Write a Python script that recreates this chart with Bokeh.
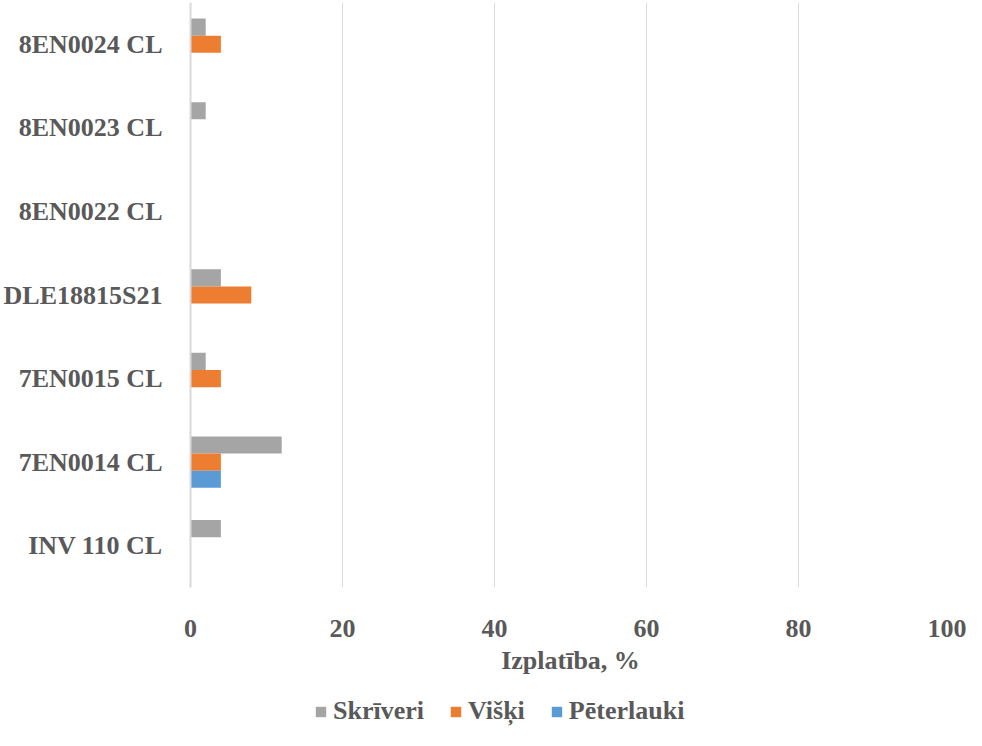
from bokeh.plotting import figure
from bokeh.layouts import column
from bokeh.models import ColumnDataSource, Legend, LegendItem, FactorRange, Range1d
from bokeh.transform import dodge
from bokeh.embed import file_html
from bokeh.resources import INLINE

categories = ["INV 110 CL", "7EN0014 CL", "7EN0015 CL", "DLE18815S21", "8EN0022 CL", "8EN0023 CL", "8EN0024 CL"]
skriveri = [4, 12, 2, 4, 0, 2, 2]
viski = [0, 4, 4, 8, 0, 0, 4]
peterlauki = [0, 4, 0, 0, 0, 0, 0]
series_names = ["Skrīveri", "Višķi", "Pēterlauki"]
colors = ["#a5a5a5", "#ed7d31", "#5b9bd5"]
x_ticks = [0, 20, 40, 60, 80, 100]

src = ColumnDataSource(dict(cat=categories, s=skriveri, v=viski, p=peterlauki))

font = "Liberation Serif"
txt = "#595959"

p = figure(width=966, height=685, y_range=FactorRange(*categories), x_range=(0, 100),
           output_backend="svg", toolbar_location=None,
           min_border_left=185, min_border_right=16, min_border_top=2, min_border_bottom=98)
p.outline_line_color = None

bh = 0.205
p.hbar(y=dodge("cat", bh, range=p.y_range), right="s", left=0, height=bh, source=src,
       fill_color=colors[0], line_color=None)
p.hbar(y=dodge("cat", 0, range=p.y_range), right="v", left=0, height=bh, source=src,
       fill_color=colors[1], line_color=None)
p.hbar(y=dodge("cat", -bh, range=p.y_range), right="p", left=0, height=bh, source=src,
       fill_color=colors[2], line_color=None)

p.xaxis.ticker = x_ticks
p.xaxis.axis_label = "Izplatība, %"
p.xaxis.axis_label_text_font = font
p.xaxis.axis_label_text_font_style = "bold"
p.xaxis.axis_label_text_font_size = "26px"
p.xaxis.axis_label_text_color = txt
p.xaxis.axis_label_standoff = 6
p.xaxis.major_label_text_font = font
p.xaxis.major_label_text_font_style = "bold"
p.xaxis.major_label_text_font_size = "26px"
p.xaxis.major_label_text_color = txt
p.xaxis.major_label_standoff = 26
p.xaxis.axis_line_color = None
p.xaxis.major_tick_line_color = None
p.xaxis.minor_tick_line_color = None

p.yaxis.major_label_text_font = font
p.yaxis.major_label_text_font_style = "bold"
p.yaxis.major_label_text_font_size = "26px"
p.yaxis.major_label_text_color = txt
p.yaxis.major_label_standoff = 22
p.yaxis.axis_line_color = "#d9d9d9"
p.yaxis.axis_line_width = 2
p.yaxis.major_tick_line_color = None
p.yaxis.minor_tick_line_color = None

p.ygrid.grid_line_color = None
p.xgrid.grid_line_color = "#d9d9d9"
p.xgrid.grid_line_width = 1

# legend figure (frames aligned with main plot by column layout)
lf = figure(width=966, height=45, x_range=Range1d(0, 1), y_range=Range1d(0, 1),
            output_backend="svg", toolbar_location=None, x_axis_type=None, y_axis_type=None,
            min_border_left=0, min_border_right=0, min_border_top=0, min_border_bottom=0)
lf.outline_line_color = None
lf.xgrid.grid_line_color = None
lf.ygrid.grid_line_color = None
dummy = ColumnDataSource(dict(y=[-5.0], r=[-4.0]))
items = []
for name, c in zip(series_names, colors):
    r = lf.hbar(y="y", left=-5.0, right="r", height=0.1, source=dummy,
                fill_color=c, line_color=None)
    items.append(LegendItem(label=name, renderers=[r]))

legend = Legend(items=items, orientation="horizontal", location=(124, 4))
legend.label_text_font = font
legend.label_text_font_style = "bold"
legend.label_text_font_size = "26px"
legend.label_text_color = txt
legend.glyph_width = 13
legend.glyph_height = 13
legend.label_standoff = 6
legend.spacing = 25
legend.border_line_color = None
legend.background_fill_alpha = 0
legend.margin = 0
legend.padding = 0
lf.add_layout(legend, "center")

layout = column(p, lf, spacing=0)
open("out.html", "w").write(file_html(layout, INLINE))
